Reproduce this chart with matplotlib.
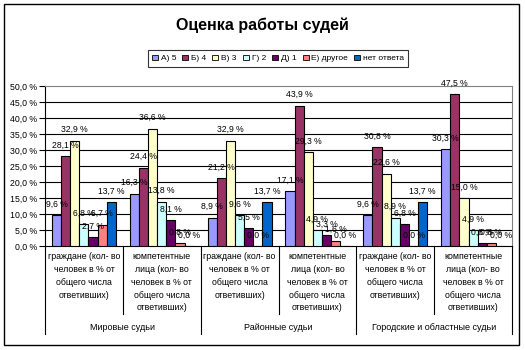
import matplotlib
matplotlib.use("Agg")
import matplotlib.pyplot as plt
from matplotlib.patches import Patch, Rectangle
from matplotlib.lines import Line2D
import matplotlib.transforms as mtransforms

plt.rcParams['font.family'] = ['Liberation Sans', 'DejaVu Sans']

title = "Оценка работы судей"
series_names = ["А) 5", "Б) 4", "В) 3", "Г) 2", "Д) 1", "Е) другое", "нет ответа"]
colors = ["#9999FF", "#993366", "#FFFFCC", "#CCFFFF", "#660066", "#FF8080", "#0066CC"]

sub_labels = [
    "граждане (кол- во\nчеловек в % от\nобщего числа\nответивших)",
    "компетентные\nлица (кол- во\nчеловек в % от\nобщего числа\nответивших)",
] * 3
group_labels = ["Мировые судьи", "Районные судьи", "Городские и областные судьи"]

# rows: categories, columns: series (A..нет ответа)
values = [
    [9.6, 28.1, 32.9, 6.8, 2.7, 6.7, 13.7],
    [16.3, 24.4, 36.6, 13.8, 8.1, 0.8, 0.0],
    [8.9, 21.2, 32.9, 9.6, 5.5, 0.0, 13.7],
    [17.1, 43.9, 29.3, 4.9, 3.3, 1.6, 0.0],
    [9.6, 30.8, 22.6, 8.9, 6.8, 0.0, 13.7],
    [30.3, 47.5, 15.0, 4.9, 0.8, 0.8, 0.0],
]
y_ticks = [0, 5, 10, 15, 20, 25, 30, 35, 40, 45, 50]

W, H = 525, 350
fig = plt.figure(figsize=(W / 100, H / 100), dpi=100)

def fx(px):
    return px / W

def fy(py):
    return 1 - py / H

# outer chart frame
fig.patches.append(Rectangle((fx(4), fy(345)), fx(519) - fx(4), fy(4) - fy(345),
                             transform=fig.transFigure, fill=False,
                             edgecolor="black", linewidth=1.0))

left, right, top, bottom = 45, 512, 86, 246
ax = fig.add_axes([fx(left), fy(bottom), fx(right) - fx(left), fy(top) - fy(bottom)])

n_cat = len(values)
n_ser = len(series_names)
bw = 1 / (n_ser + 1.5)
for s in range(n_ser):
    xs = [c + 0.75 * bw + (s + 0.5) * bw for c in range(n_cat)]
    hs = [values[c][s] for c in range(n_cat)]
    ax.bar(xs, hs, width=bw, color=colors[s], edgecolor="black", linewidth=0.8, zorder=3)
    for x, h in zip(xs, hs):
        ax.annotate(f"{h:.1f} %".replace(".", ","), (x, h), xytext=(0, 8),
                    textcoords="offset points", ha="center", va="center",
                    fontsize=6.2, zorder=5)

ax.set_xlim(0, n_cat)
ax.set_ylim(0, 50)
ax.set_yticks(y_ticks)
ax.set_yticklabels([f"{t:.1f} %".replace(".", ",") for t in y_ticks], fontsize=6.3)
ax.tick_params(axis="y", length=4, width=0.8, pad=2)
ax.set_xticks([])
for t in y_ticks[1:-1]:
    ax.axhline(t, color="black", linewidth=0.8, zorder=1)

for side in ["top", "right"]:
    ax.spines[side].set_color("#808080")
    ax.spines[side].set_linewidth(0.8)
for side in ["left", "bottom"]:
    ax.spines[side].set_color("black")
    ax.spines[side].set_linewidth(0.8)

# multi-level category axis
trans = mtransforms.blended_transform_factory(ax.transData, fig.transFigure)
for c in range(n_cat + 1):
    outer = (c % 2 == 0)
    y_end = 334 if outer else 314
    fig.add_artist(Line2D([c, c], [fy(bottom), fy(y_end)], transform=trans,
                          color="black", linewidth=0.8))
for c, lab in enumerate(sub_labels):
    fig.text(c + 0.5, fy(252), lab, transform=trans, ha="center", va="top",
             fontsize=6.3, linespacing=1.55)
for g, lab in enumerate(group_labels):
    fig.text(2 * g + 1, fy(328), lab, transform=trans, ha="center", va="center",
             fontsize=6.5)

fig.text(fx(262), fy(25), title, ha="center", va="center", fontsize=11.5,
         fontweight="bold")

handles = [Patch(facecolor=col, edgecolor="black", linewidth=0.6) for col in colors]
leg = fig.legend(handles, series_names, loc="center", bbox_to_anchor=(fx(278), fy(58.5)),
                 ncol=n_ser, fontsize=6, frameon=True, fancybox=False,
                 handlelength=0.7, handleheight=0.7, handletextpad=0.35,
                 columnspacing=0.75, borderpad=0.5, borderaxespad=0)
leg.get_frame().set_edgecolor("black")
leg.get_frame().set_linewidth(0.8)

fig.savefig("out.png", dpi=100)
